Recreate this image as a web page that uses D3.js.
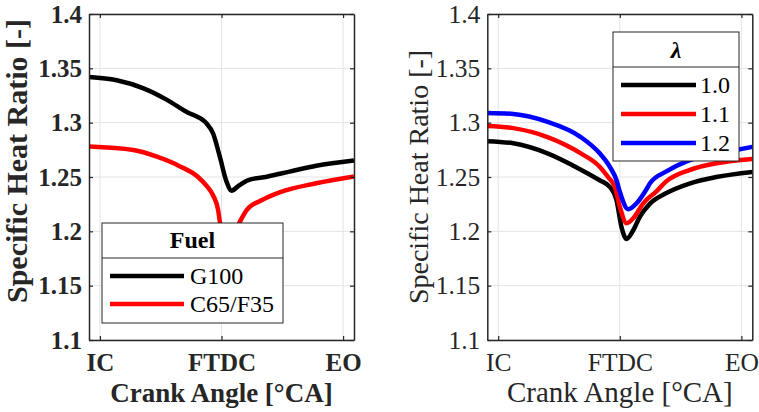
<!DOCTYPE html>
<html>
<head>
<meta charset="utf-8">
<script src="https://cdn.jsdelivr.net/npm/d3@7"></script>
<style>
  body { margin: 0; background: #fff; }
  svg { display: block; font-family: "Liberation Serif", "Times New Roman", serif; }
</style>
</head>
<body>
<svg width="759" height="412"></svg>
<script>
// crank angle in deg, FTDC = 0
var xTicks = [-145, 0, 145];
var xTickLabels = ['IC', 'FTDC', 'EO'];
var yTicks = [1.1, 1.15, 1.2, 1.25, 1.3, 1.35, 1.4];
var yTickLabels = ['1.1', '1.15', '1.2', '1.25', '1.3', '1.35', '1.4'];

// left panel: fuels
var fuelNames = ['G100', 'C65/F35'];
var fuelColors = ['#000000', '#ff0000'];
var g100 = [[-158, 1.342], [-125, 1.339], [-93, 1.3316], [-65, 1.321], [-42, 1.310], [-18, 1.2994],
  [-10, 1.290], [-2, 1.2687], [6, 1.2457], [12, 1.2374], [20, 1.2417], [32, 1.2472],
  [54, 1.2503], [81, 1.2549], [113, 1.2604], [158, 1.2652]];
var c65f35 = [[-158, 1.278], [-105, 1.2748], [-77, 1.2687], [-50, 1.260], [-28, 1.250], [-18, 1.2420],
  [-10, 1.233], [-4, 1.2196], [-2, 1.209], [4, 1.192], [8, 1.188], [14, 1.196], [22, 1.2089],
  [30, 1.2196], [49, 1.229], [70, 1.236], [113, 1.2442], [158, 1.2505]];

// right panel: lambda
var lambdaNames = ['1.0', '1.1', '1.2'];
var lambdaColors = ['#000000', '#ff0000', '#0000ff'];
var lambda10 = [[-158, 1.283], [-127, 1.281], [-87, 1.272], [-47, 1.257], [-24, 1.247], [-12, 1.241],
  [-4, 1.229], [2, 1.204], [8, 1.193], [16, 1.201], [24, 1.2135], [36, 1.2255], [55, 1.235],
  [83, 1.244], [115, 1.250], [158, 1.2547]];
var lambda11 = [[-158, 1.297], [-127, 1.295], [-87, 1.287], [-47, 1.272], [-24, 1.2595], [-14, 1.250],
  [-6, 1.241], [0, 1.2227], [8, 1.2075], [16, 1.212], [28, 1.2258], [44, 1.237], [55, 1.2457],
  [83, 1.2564], [115, 1.2626], [158, 1.2666]];
var lambda12 = [[-158, 1.309], [-127, 1.308], [-87, 1.301], [-47, 1.287], [-24, 1.2718], [-12, 1.2595],
  [-4, 1.2472], [0, 1.2365], [10, 1.2203], [20, 1.2258], [32, 1.239], [36, 1.2442], [55, 1.2549],
  [79, 1.2641], [107, 1.2702], [134, 1.2742], [158, 1.2777]];

var svg = d3.select('svg');
var axColor = '#262626';
var serif = '"Liberation Serif", "Times New Roman", serif';

function drawPanel(opt) {
  var x = d3.scaleLinear().domain([-158, 158]).range([opt.left, opt.left + 265]);
  var y = d3.scaleLinear().domain([1.1, 1.4]).range([340, 14]);
  var g = svg.append('g').attr('font-weight', opt.weight);

  // grid
  g.selectAll('.gx').data(xTicks).enter().append('line')
    .attr('x1', function(d) { return x(d); }).attr('x2', function(d) { return x(d); })
    .attr('y1', y(1.1)).attr('y2', y(1.4)).attr('stroke', '#e3e3e3').attr('stroke-width', 1);
  g.selectAll('.gy').data(yTicks).enter().append('line')
    .attr('x1', x.range()[0]).attr('x2', x.range()[1])
    .attr('y1', function(d) { return y(d); }).attr('y2', function(d) { return y(d); })
    .attr('stroke', '#e3e3e3').attr('stroke-width', 1);

  // lines
  var line = d3.line().x(function(d) { return x(d[0]); }).y(function(d) { return y(d[1]); })
    .curve(d3.curveMonotoneX);
  var clipId = 'clip' + Math.round(opt.left);
  svg.append('clipPath').attr('id', clipId).append('rect')
    .attr('x', x.range()[0]).attr('y', 14).attr('width', 265).attr('height', 326);
  g.append('g').attr('clip-path', 'url(#' + clipId + ')')
    .selectAll('path').data(opt.series).enter().append('path')
    .attr('d', line).attr('fill', 'none')
    .attr('stroke', function(d, i) { return opt.colors[i]; })
    .attr('stroke-width', 4.5).attr('stroke-linejoin', 'round');

  // axes: box with inward ticks on all sides
  var bottom = d3.axisBottom(x).tickValues(xTicks).tickSizeInner(-4).tickSizeOuter(0)
    .tickFormat(function(d, i) { return xTickLabels[i]; }).tickPadding(13);
  var top = d3.axisTop(x).tickValues(xTicks).tickSizeInner(-4).tickSizeOuter(0).tickFormat('');
  var leftAx = d3.axisLeft(y).tickValues(yTicks).tickSizeInner(-4).tickSizeOuter(0)
    .tickFormat(function(d, i) { return yTickLabels[i]; }).tickPadding(7);
  var rightAx = d3.axisRight(y).tickValues(yTicks).tickSizeInner(-4).tickSizeOuter(0).tickFormat('');

  [[bottom, 'translate(0,340)'], [top, 'translate(0,14)'],
   [leftAx, 'translate(' + x.range()[0] + ',0)'], [rightAx, 'translate(' + x.range()[1] + ',0)']]
    .forEach(function(a) {
      var ax = g.append('g').attr('transform', a[1]).call(a[0])
        .attr('font-family', serif).attr('font-size', opt.tickSize);
      ax.selectAll('path').attr('stroke', axColor).attr('stroke-width', 1.5);
      ax.selectAll('line').attr('stroke', axColor).attr('stroke-width', 1.2);
      ax.selectAll('text').attr('fill', axColor).attr('font-weight', opt.weight);
    });

  // labels
  g.append('text').attr('x', x(0)).attr('y', 402).attr('text-anchor', 'middle')
    .attr('font-size', opt.xLabelSize).attr('fill', axColor).text('Crank Angle [°CA]');
  g.append('text').attr('transform', 'translate(' + opt.yLabelX + ',' + opt.yLabelY + ') rotate(-90)')
    .attr('text-anchor', 'middle').attr('font-size', opt.yLabelSize).attr('fill', axColor)
    .text('Specific Heat Ratio [-]');

  // legend
  var L = opt.legend;
  var lg = svg.append('g');
  lg.append('rect').attr('x', L.x).attr('y', L.y).attr('width', L.w).attr('height', L.h)
    .attr('fill', '#fff').attr('stroke', axColor).attr('stroke-width', 1);
  lg.append('line').attr('x1', L.x).attr('x2', L.x + L.w).attr('y1', L.div).attr('y2', L.div)
    .attr('stroke', axColor).attr('stroke-width', 1);
  lg.append('text').attr('x', L.x + L.w / 2).attr('y', L.titleY).attr('text-anchor', 'middle')
    .attr('font-size', 24).attr('font-weight', 'bold').attr('font-style', L.titleStyle)
    .attr('fill', '#000').text(L.title);
  var items = lg.selectAll('.item').data(opt.names).enter().append('g')
    .attr('transform', function(d, i) { return 'translate(0,' + L.rows[i] + ')'; });
  items.append('line').attr('x1', L.lx1).attr('x2', L.lx2).attr('y1', 0).attr('y2', 0)
    .attr('stroke', function(d, i) { return opt.colors[i]; }).attr('stroke-width', 4.5);
  items.append('text').attr('x', L.tx).attr('y', 0).attr('dy', '0.34em')
    .attr('font-size', 24).attr('font-weight', 'normal').attr('fill', '#000')
    .text(function(d) { return d; });
}

drawPanel({
  left: 89, weight: 'bold', tickSize: 25, xLabelSize: 27, yLabelSize: 30,
  yLabelX: 27, yLabelY: 161,
  series: [g100, c65f35], colors: fuelColors, names: fuelNames,
  legend: { x: 102, y: 223, w: 181, h: 100, div: 258, title: 'Fuel', titleY: 248, titleStyle: 'normal',
    rows: [276, 304], lx1: 110, lx2: 184, tx: 190 }
});
drawPanel({
  left: 487.3, weight: 'normal', tickSize: 25.5, xLabelSize: 29, yLabelSize: 28,
  yLabelX: 428, yLabelY: 177,
  series: [lambda10, lambda11, lambda12], colors: lambdaColors, names: lambdaNames,
  legend: { x: 613, y: 32, w: 126, h: 129, div: 67, title: 'λ', titleY: 58, titleStyle: 'italic',
    rows: [85, 114, 143], lx1: 621, lx2: 696, tx: 700 }
});
</script>
</body>
</html>
